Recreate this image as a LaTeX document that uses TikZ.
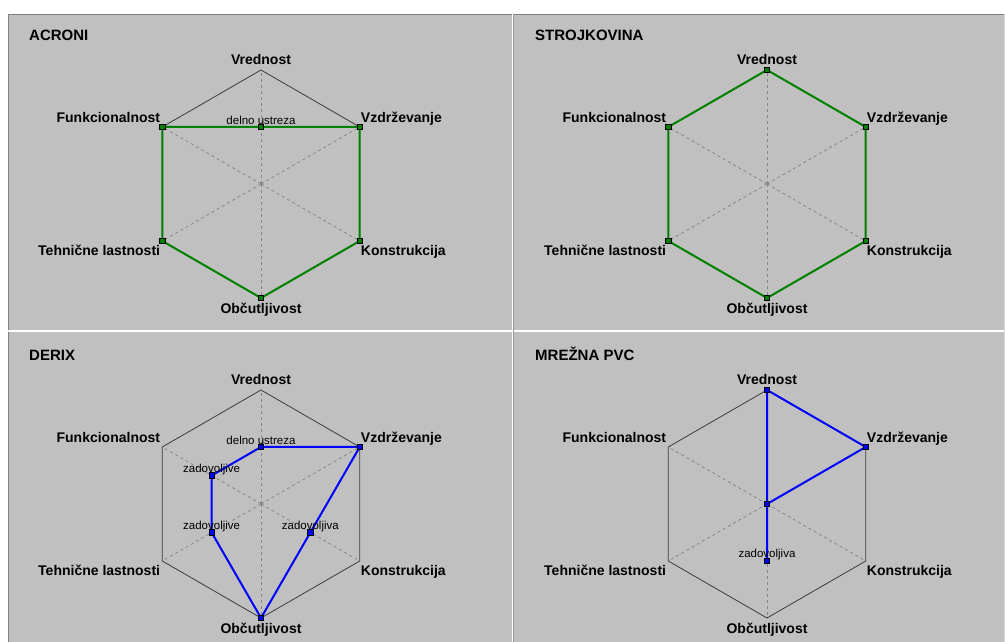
\documentclass[tikz,border=0pt]{standalone}
\usepackage{fontspec}
\setmainfont{Liberation Sans}
\usepackage{xcolor}
\usetikzlibrary{positioning}
\usetikzlibrary{calc}

\definecolor{panelgray}{RGB}{192,192,192}
\definecolor{framegray}{RGB}{128,128,128}
\definecolor{hexgray}{RGB}{60,60,60}
\definecolor{spokegray}{RGB}{135,135,135}
\definecolor{okgreen}{RGB}{0,128,0}
\definecolor{okblue}{RGB}{0,0,255}

% one empty radar chart: #1 name prefix, #2 centre, #3 title
\newcommand{\radarchart}[3]{%
  \coordinate (#1c) at #2;
  \foreach \ang/\axn in {90/v,30/z,-30/k,-90/o,-150/t,150/f} {
    \coordinate (#1\axn1) at ($(#1c)+(\ang:114)$);
    \coordinate (#1\axn5) at ($(#1c)+(\ang:57)$);
    \draw[spoke] (#1c) -- (#1\axn1);
  }
  \node[hub] (#1hub) at (#1c) {};
  \draw[hexline] (#1v1) -- (#1z1) -- (#1k1) -- (#1o1) -- (#1t1) -- (#1f1) -- cycle;
  \node[axislbl, above=5.5pt of #1v1] (#1vl) {Vrednost};
  \node[axislbl, above right=4.4pt and 1pt of #1z1] (#1zl) {Vzdrževanje};
  \node[axislbl, below right=4pt and 1pt of #1k1] (#1kl) {Konstrukcija};
  \node[axislbl, below=5pt of #1o1] (#1ol) {Občutljivost};
  \node[axislbl, below left=4pt and 2pt of #1t1] (#1tl) {Tehnične lastnosti};
  \node[axislbl, above left=4.4pt and 2pt of #1f1] (#1fl) {Funkcionalnost};
  \node[chartttl] (#1ttl) at ($(#1c)+(-232,143.5)$) {#3};
}

\begin{document}
\begin{tikzpicture}[x=1pt, y=1pt,
    spoke/.style={spokegray, line width=0.8pt, dash pattern=on 3pt off 3pt},
    hexline/.style={hexgray, line width=0.8pt},
    hub/.style={fill=spokegray, minimum size=3pt, inner sep=0pt},
    axislbl/.style={inner sep=0pt, text depth=0pt, font=\fontsize{14}{16}\selectfont\bfseries},
    chartttl/.style={anchor=base west, inner sep=0pt, font=\fontsize{15}{18}\selectfont\bfseries},
    valuelbl/.style={inner sep=0pt, text depth=0pt, font=\fontsize{11.5}{13}\selectfont},
    greenline/.style={okgreen, line width=2pt, line join=miter},
    blueline/.style={okblue, line width=2pt, line join=miter},
    greenbox/.style={draw=black, fill=okgreen, minimum size=5.5pt, inner sep=0pt, line width=0.7pt},
    bluebox/.style={draw=black, fill=okblue, minimum size=5.5pt, inner sep=0pt, line width=0.7pt}]

  \useasboundingbox (0,0) rectangle (1005,642);
  % panels
  \fill[white] (0,0) rectangle (1005,642);
  \fill[panelgray] (8,0) rectangle (1005,628);
  \draw[framegray, line width=1pt] (8.5,0) -- (8.5,627.5) -- (1005,627.5);
  \draw[white, line width=1.2pt] (8,311) -- (1005,311);
  \draw[white, line width=1pt] (512.5,0) -- (512.5,628);
  \draw[framegray!80, line width=1pt] (513.5,0) -- (513.5,628);
  \draw[white!85!black, line width=1pt] (1004.5,0) -- (1004.5,628);

  \radarchart{A}{(261,458)}{ACRONI}
  \radarchart{S}{(767,458)}{STROJKOVINA}
  \radarchart{D}{(261,138)}{DERIX}
  \radarchart{M}{(767,138)}{MREŽNA PVC}

  % ACRONI
  \draw[greenline] (Av5) -- (Az1) -- (Ak1) -- (Ao1) -- (At1) -- (Af1) -- cycle;
  \node[valuelbl, above=2.6pt of Av5] (Av5l) {delno ustreza};
  \foreach \p in {Av5,Az1,Ak1,Ao1,At1,Af1}
    \node[greenbox] (\p m) at (\p) {};

  % STROJKOVINA
  \draw[greenline] (Sv1) -- (Sz1) -- (Sk1) -- (So1) -- (St1) -- (Sf1) -- cycle;
  \foreach \p in {Sv1,Sz1,Sk1,So1,St1,Sf1}
    \node[greenbox] (\p m) at (\p) {};

  % DERIX
  \draw[blueline] (Dv5) -- (Dz1) -- (Dk5) -- (Do1) -- (Dt5) -- (Df5) -- cycle;
  \node[valuelbl, above=2.6pt of Dv5] (Dv5l) {delno ustreza};
  \node[valuelbl, above=3pt of Df5] (Df5l) {zadovoljive};
  \node[valuelbl, above=3pt of Dt5] (Dt5l) {zadovoljive};
  \node[valuelbl, above=3pt of Dk5] (Dk5l) {zadovoljiva};
  \foreach \p in {Dv5,Dz1,Dk5,Do1,Dt5,Df5}
    \node[bluebox] (\p m) at (\p) {};

  % MREZNA PVC
  \draw[blueline] (Mv1) -- (Mz1) -- (Mc) -- (Mo5) -- (Mc) -- cycle;
  \node[valuelbl, above=3pt of Mo5] (Mo5l) {zadovoljiva};
  \foreach \p in {Mv1,Mz1,Mc,Mo5}
    \node[bluebox] (\p m) at (\p) {};
\end{tikzpicture}
\end{document}
